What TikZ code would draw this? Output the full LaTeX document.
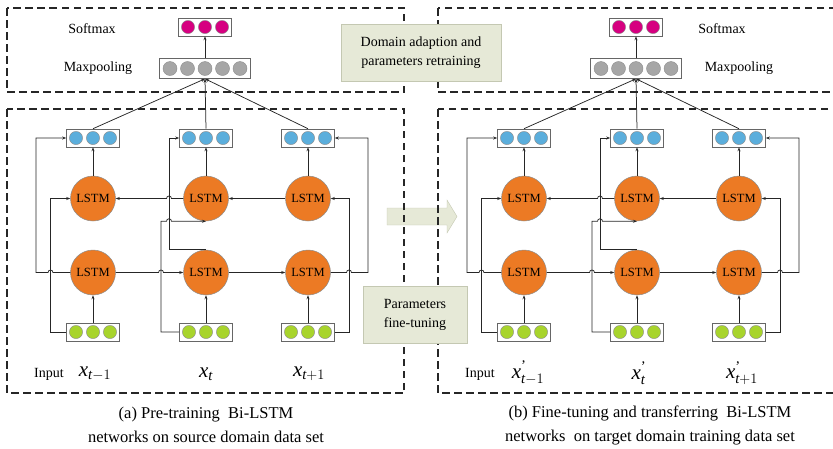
\documentclass[tikz,border=0pt]{standalone}
\usepackage{fontspec}
\usepackage{amsmath}
\setmainfont{Liberation Serif}
\usetikzlibrary{arrows.meta,positioning}

\definecolor{lstmorange}{RGB}{236,122,36}
\definecolor{outblue}{RGB}{91,174,220}
\definecolor{ingreen}{RGB}{168,212,44}
\definecolor{softpink}{RGB}{214,0,128}
\definecolor{poolgray}{RGB}{166,166,166}
\definecolor{notefill}{RGB}{230,233,215}
\definecolor{noteedge}{RGB}{196,200,178}

\tikzset{
  panel/.style={draw=black!85, line width=1.1pt, dash pattern=on 7.5pt off 4.5pt},
  vec/.style={draw=black!60, fill=white, line width=0.6pt, minimum width=53pt, minimum height=18pt, inner sep=0pt},
  longvec/.style={vec, minimum width=91pt, minimum height=20pt},
  dot/.style={draw=black!45, line width=0.4pt},
  lstm/.style={circle, draw=black!45, fill=lstmorange, line width=0.5pt, minimum size=45pt, inner sep=0pt, font=\fontsize{12.5}{14}\selectfont},
  conn/.style={draw=black!85, line width=0.75pt, -{Stealth[length=4pt,width=3pt]}},
  note/.style={draw=noteedge, fill=notefill, align=center, inner sep=0pt, font=\fontsize{14}{19}\selectfont},
  lbl/.style={font=\fontsize{14}{17}\selectfont},
  xlbl/.style={font=\fontsize{21}{22}\selectfont},
  caption/.style={align=center, font=\fontsize{16.5}{24}\selectfont},
  hop/.style={insert path={arc[start angle=180,end angle=0,radius=2.5pt]}},
  hopl/.style={insert path={arc[start angle=0,end angle=180,radius=2.5pt]}},
}

\begin{document}
\begin{tikzpicture}[x=1pt,y=-1pt]
  \useasboundingbox (0,0) rectangle (833,448);

  % Transfer arrow between the panels
  \filldraw[fill=notefill, draw=noteedge] (387,208) -- (447,208) -- (447,200) -- (457,216.5) -- (447,233) -- (447,225) -- (387,225) -- cycle;

  % Both Bi-LSTM panels
  \foreach \p/\dx in {a/0, b/431}{
    \begin{scope}[shift={(\dx,0)}, name prefix=\p-]
      % Dashed frames
      \draw[panel] (7,8) rectangle (404,92);
      \draw[panel] (7,109) rectangle (404,393);

      % Output layers
      \node[vec] (soft) at (205,27) {};
      \node[longvec] (pool) at (205,68.5) {};

      % Bi-LSTM cells and vectors
      \node[vec] (o1) at (93,138) {};
      \node[vec] (o2) at (206,138) {};
      \node[vec] (o3) at (308,138) {};
      \node[lstm] (b1) at (93,198.5) {LSTM};
      \node[lstm] (b2) at (206,198.5) {LSTM};
      \node[lstm] (b3) at (308,198.5) {LSTM};
      \node[lstm] (f1) at (93,272.5) {LSTM};
      \node[lstm] (f2) at (206,272.5) {LSTM};
      \node[lstm] (f3) at (308,272.5) {LSTM};
      \node[vec] (in1) at (93,332) {};
      \node[vec] (in2) at (206,332) {};
      \node[vec] (in3) at (308,332) {};

      % Circles inside the vectors
      \foreach \n/\c in {soft/softpink, o1/outblue, o2/outblue, o3/outblue, in1/ingreen, in2/ingreen, in3/ingreen}
        \foreach \k in {-1,0,1}
          \filldraw[dot, fill=\c] ([xshift=\k*17pt]\n) circle (6.6pt);
      \foreach \k in {-2,...,2}
        \filldraw[dot, fill=poolgray] ([xshift=\k*17.5pt]pool) circle (7pt);

      % Routing columns
      \coordinate (u1) at (36,0);
      \coordinate (v1) at (50.5,0);
      \coordinate (v2) at (161,0);
      \coordinate (u2) at (169,0);
      \coordinate (v3) at (349,0);
      \coordinate (u3) at (368,0);

      % Vertical links
      \foreach \i in {1,2,3}{
        \draw[conn] (in\i) -- (f\i);
        \draw[conn] (b\i) -- (o\i);
        \draw[conn] (o\i.north) -- (pool.south);
      }
      \draw[conn] (pool) -- (soft);

      % Forward and backward chains
      \draw[conn] (f1.east) -- ([xshift=-2.5pt]v2 |- f1.east) [hop] -- (f2.west);
      \draw[conn] (f2) -- (f3);
      \draw[conn] (b3) -- (b2);
      \draw[conn] (b2.west) -- ([xshift=2.5pt]u2 |- b2.west) [hopl] -- (b1.east);

      % Column 1
      \draw[conn] (in1.west) -- (v1 |- in1.west) -- (v1 |- b1.west) -- (b1.west);
      \draw[conn] (f1.west) -- ([xshift=2.5pt]v1 |- f1.west) [hopl] -- (u1 |- f1.west) -- (u1 |- o1.west) -- (o1.west);

      % Column 2
      \draw[conn] (in2.west) -- (v2 |- in2.west) -- (v2 |- b2.south) -- ([xshift=-2.5pt]u2 |- b2.south) [hop] -- (b2.south);
      \draw[conn] (f2.north) -- (u2 |- f2.north) -- (u2 |- o2.west) -- (o2.west);

      % Column 3
      \draw[conn] (in3.east) -- (v3 |- in3.east) -- (v3 |- b3.east) -- (b3.east);
      \draw[conn] (f3.east) -- ([xshift=-2.5pt]v3 |- f3.east) [hop] -- (u3 |- f3.east) -- (u3 |- o3.east) -- (o3.east);
    \end{scope}
  }

  % Notes between the panels
  \node[note, minimum width=160pt, minimum height=57pt] (adapt) at (421,52.5) {Domain adaption and\\parameters retraining};
  \node[note, minimum width=104pt, minimum height=57pt] (tune) at (415,314.5) {Parameters\\fine-tuning};

  % Labels of panel (a)
  \node[lbl] (softlbl-a) at (92,29) {Softmax};
  \node[lbl] (poollbl-a) at (98,68) {Maxpooling};
  \node[lbl] (inlbl-a) at (49,374) {Input};
  \node[xlbl] (x1-a) at (95,374) {$\textit{x}_{\textit{t}-1}$};
  \node[xlbl] (x2-a) at (206,374) {$\textit{x}_{\textit{t}}$};
  \node[xlbl] (x3-a) at (309,374) {$\textit{x}_{\textit{t}+1}$};
  \node[caption] (cap-a) at (206,425) {(a) Pre-training\ \ Bi-LSTM\\networks on source domain data set};

  % Labels of panel (b)
  \node[lbl] (softlbl-b) at (722,29) {Softmax};
  \node[lbl] (poollbl-b) at (739,68) {Maxpooling};
  \node[lbl] (inlbl-b) at (480,374) {Input};
  \node[xlbl] (x1-b) at (528,373) {$\textit{x}^{\text{'}}_{\textit{t}-1}$};
  \node[xlbl] (x2-b) at (639,373) {$\textit{x}^{\text{'}}_{\textit{t}}$};
  \node[xlbl] (x3-b) at (742,373) {$\textit{x}^{\text{'}}_{\textit{t}+1}$};
  \node[caption] (cap-b) at (650,425) {(b) Fine-tuning and transferring\ \ Bi-LSTM\\networks\ \ on target domain training data set};
\end{tikzpicture}
\end{document}
